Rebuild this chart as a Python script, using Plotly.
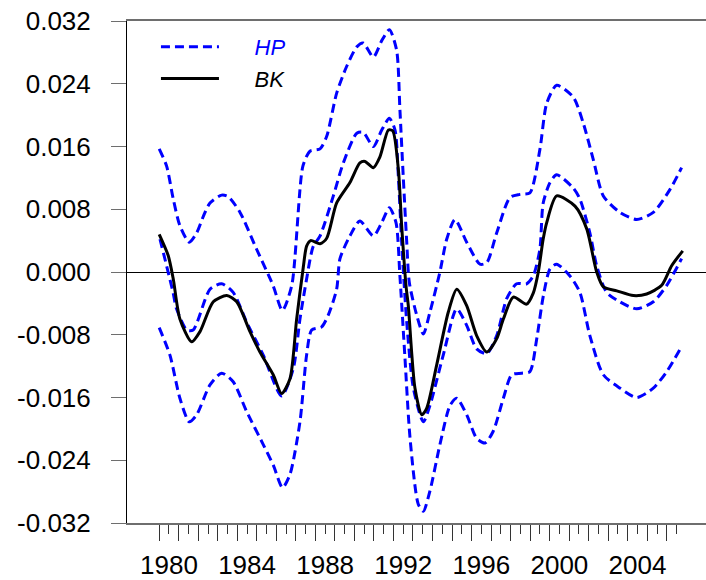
import plotly.graph_objects as go

# ---------------- data ----------------
hp_upper_year = [1979.50, 1979.88, 1980.22, 1980.56, 1981.04, 1981.42, 1981.76, 1982.10, 1982.70, 1983.04,
                 1983.64, 1984.49, 1985.33, 1985.81, 1986.29, 1986.86, 1987.22, 1987.74, 1988.08, 1988.59,
                 1989.10, 1989.62, 1989.95, 1990.47, 1990.90, 1991.29, 1991.66, 1991.83, 1992.00, 1992.18,
                 1992.31, 1992.69, 1993.03, 1993.37, 1993.88, 1994.23, 1994.65, 1995.25, 1995.93, 1996.28,
                 1996.79, 1997.47, 1997.98, 1998.49, 1999.00, 1999.35, 1999.86, 2000.71, 2001.22, 2001.74,
                 2002.25, 2003.10, 2003.96, 2004.81, 2005.66, 2006.26]
hp_upper = [0.0157, 0.0135, 0.0093, 0.0059, 0.0038, 0.0050, 0.0071, 0.0088, 0.0098, 0.0096,
            0.0076, 0.0029, -0.0017, -0.0049, -0.0017, 0.0135, 0.0154, 0.0157, 0.0173, 0.0228,
            0.0262, 0.0287, 0.0292, 0.0274, 0.0295, 0.0309, 0.0283, 0.0207, 0.0122, 0.0038,
            -0.0013, -0.0055, -0.0079, -0.0051, 0.0000, 0.0042, 0.0067, 0.0038, 0.0010, 0.0012,
            0.0050, 0.0095, 0.0099, 0.0101, 0.0156, 0.0215, 0.0238, 0.0223, 0.0190, 0.0143,
            0.0097, 0.0076, 0.0067, 0.0076, 0.0105, 0.0133]

hp_mid_year = [1979.54, 1980.20, 1980.39, 1980.91, 1981.24, 1982.10, 1982.70, 1983.29, 1983.98, 1984.83,
               1985.77, 1986.37, 1986.71, 1987.05, 1987.38, 1987.74, 1988.42, 1988.93, 1989.62, 1989.95,
               1990.47, 1990.90, 1991.29, 1991.58, 1991.75, 1991.92, 1992.18, 1992.52, 1993.03, 1993.37,
               1994.05, 1994.74, 1995.25, 1995.76, 1996.28, 1996.79, 1997.30, 1997.81, 1998.32, 1998.66,
               1999.00, 1999.17, 1999.52, 1999.86, 2000.71, 2001.05, 2001.56, 2001.91, 2002.42, 2003.10,
               2003.96, 2004.81, 2005.50, 2006.26]
hp_mid = [0.0042, -0.0025, -0.0047, -0.0074, -0.0074, -0.0022, -0.0015, -0.0026, -0.0064, -0.0106,
          -0.0158, -0.0123, -0.0060, -0.0009, 0.0032, 0.0046, 0.0097, 0.0139, 0.0177, 0.0178,
          0.0160, 0.0181, 0.0196, 0.0181, 0.0122, 0.0038, -0.0064, -0.0148, -0.0191, -0.0170,
          -0.0106, -0.0047, -0.0068, -0.0098, -0.0104, -0.0081, -0.0034, -0.0015, -0.0015, -0.0005,
          0.0029, 0.0088, 0.0114, 0.0124, 0.0107, 0.0093, 0.0050, 0.0008, -0.0026, -0.0038,
          -0.0047, -0.0038, -0.0017, 0.0017]

hp_lower_year = [1979.50, 1980.05, 1980.56, 1981.04, 1981.42, 1982.10, 1982.70, 1983.29, 1983.98, 1984.83,
                 1985.34, 1985.82, 1986.20, 1986.71, 1987.05, 1987.31, 1987.82, 1988.16, 1988.59, 1988.76,
                 1989.27, 1989.78, 1990.47, 1990.90, 1991.29, 1991.63, 1991.83, 1992.09, 1992.35, 1992.77,
                 1993.03, 1993.37, 1993.88, 1994.40, 1994.74, 1995.25, 1995.76, 1996.19, 1996.61, 1997.13,
                 1997.56, 1998.07, 1998.49, 1998.84, 1999.18, 1999.52, 1999.86, 2000.54, 2001.05, 2001.56,
                 2002.25, 2003.10, 2003.96, 2004.81, 2005.50, 2006.26]
hp_lower = [-0.0071, -0.0106, -0.0161, -0.0191, -0.0182, -0.0144, -0.0129, -0.0140, -0.0178, -0.0220,
            -0.0246, -0.0275, -0.0258, -0.0191, -0.0106, -0.0074, -0.0070, -0.0055, -0.0022, 0.0017,
            0.0046, 0.0065, 0.0046, 0.0063, 0.0082, 0.0063, -0.0005, -0.0110, -0.0212, -0.0296,
            -0.0305, -0.0279, -0.0220, -0.0170, -0.0161, -0.0182, -0.0212, -0.0218, -0.0203, -0.0161,
            -0.0131, -0.0129, -0.0127, -0.0085, -0.0030, 0.0004, 0.0010, -0.0005, -0.0026, -0.0081,
            -0.0131, -0.0148, -0.0160, -0.0148, -0.0127, -0.0095]

bk_year = [1979.50, 1979.96, 1980.22, 1980.56, 1981.16, 1981.59, 1982.27, 1982.96, 1983.47, 1984.15,
           1984.66, 1985.34, 1985.77, 1986.20, 1986.54, 1986.88, 1987.05, 1987.26, 1987.74, 1988.08,
           1988.59, 1989.27, 1989.78, 1990.04, 1990.47, 1990.81, 1991.24, 1991.46, 1991.75, 1991.92,
           1992.14, 1992.26, 1992.60, 1992.95, 1993.20, 1993.71, 1994.31, 1994.74, 1995.25, 1995.76,
           1996.28, 1996.79, 1997.13, 1997.64, 1998.32, 1998.66, 1998.92, 1999.17, 1999.35, 1999.86,
           2000.80, 2001.40, 2001.91, 2002.25, 2002.94, 2003.79, 2004.47, 2005.24, 2005.75, 2006.32]
bk = [0.0048, 0.0021, -0.0009, -0.0060, -0.0089, -0.0076, -0.0038, -0.0030, -0.0038, -0.0076,
      -0.0102, -0.0131, -0.0155, -0.0136, -0.0060, 0.0006, 0.0033, 0.0040, 0.0036, 0.0043,
      0.0088, 0.0114, 0.0139, 0.0141, 0.0133, 0.0147, 0.0181, 0.0180, 0.0131, 0.0059,
      -0.0017, -0.0043, -0.0148, -0.0182, -0.0174, -0.0119, -0.0051, -0.0022, -0.0043, -0.0081,
      -0.0102, -0.0085, -0.0060, -0.0032, -0.0041, -0.0027, 0.0000, 0.0042, 0.0063, 0.0097,
      0.0084, 0.0055, 0.0000, -0.0019, -0.0024, -0.0030, -0.0028, -0.0017, 0.0008, 0.0027]

x_label_years = [1980, 1984, 1988, 1992, 1996, 2000, 2004]
x_short_ticks = list(range(1980, 2007))
x_long_ticks = [y + 0.5 for y in range(1979, 2006)]
y_tick_vals = [-0.032, -0.024, -0.016, -0.008, 0.0, 0.008, 0.016, 0.024, 0.032]
y_tick_text = ["-0.032", "-0.024", "-0.016", "-0.008", "0.000", "0.008", "0.016", "0.024", "0.032"]

# ---------------- figure ----------------
FONT = "Liberation Sans, Arial, sans-serif"
BLUE = "#0000FF"
GAP = "\u00a0" * 5
dash_line = dict(color=BLUE, width=3, dash="9px,5px", shape="spline", smoothing=0.7)

fig = go.Figure()
fig.add_trace(go.Scatter(x=hp_upper_year, y=hp_upper, mode="lines", line=dash_line,
                         showlegend=False, hoverinfo="skip"))
fig.add_trace(go.Scatter(x=hp_lower_year, y=hp_lower, mode="lines", line=dash_line,
                         showlegend=False, hoverinfo="skip"))
fig.add_trace(go.Scatter(x=hp_mid_year, y=hp_mid, mode="lines", line=dash_line,
                         name=GAP + "<span style='color:#0000FF'><i>HP</i></span>"))
fig.add_trace(go.Scatter(x=bk_year, y=bk, mode="lines",
                         line=dict(color="black", width=3, shape="spline", smoothing=0.7),
                         name=GAP + "<i>BK</i>"))

x_text = [str(y) if y in x_label_years else "" for y in x_short_ticks]

fig.update_layout(
    width=706, height=580,
    margin=dict(l=127, r=0, t=21, b=54),
    paper_bgcolor="white", plot_bgcolor="white",
    font=dict(family=FONT, size=26, color="black"),
    legend=dict(x=0.05, y=0.99, xanchor="left", yanchor="top",
                bgcolor="rgba(0,0,0,0)", font=dict(size=22, family=FONT),
                itemwidth=58, traceorder="normal", tracegroupgap=0),
    xaxis=dict(
        range=[1977.85, 2007.51], showgrid=False, zeroline=False,
        showline=True, linecolor="#6e6e6e", linewidth=1.5, mirror=True,
        tickmode="array", tickvals=x_short_ticks, ticktext=x_text,
        ticks="outside", ticklen=9, tickwidth=1, tickcolor="#333333",
        minor=dict(tickmode="array", tickvals=x_long_ticks, ticks="outside",
                   ticklen=16, tickwidth=1, tickcolor="#333333", showgrid=False),
        tickfont=dict(size=26, family=FONT), ticklabelstandoff=9,
    ),
    yaxis=dict(
        range=[-0.032, 0.032], showgrid=False,
        zeroline=True, zerolinecolor="black", zerolinewidth=1,
        showline=True, linecolor="black", linewidth=1,
        tickmode="array", tickvals=y_tick_vals, ticktext=y_tick_text,
        ticks="outside", ticklen=15, tickwidth=1, tickcolor="#6e6e6e",
        tickfont=dict(size=26, family=FONT), ticklabelstandoff=15,
    ),
)

fig.write_html("out.html")
